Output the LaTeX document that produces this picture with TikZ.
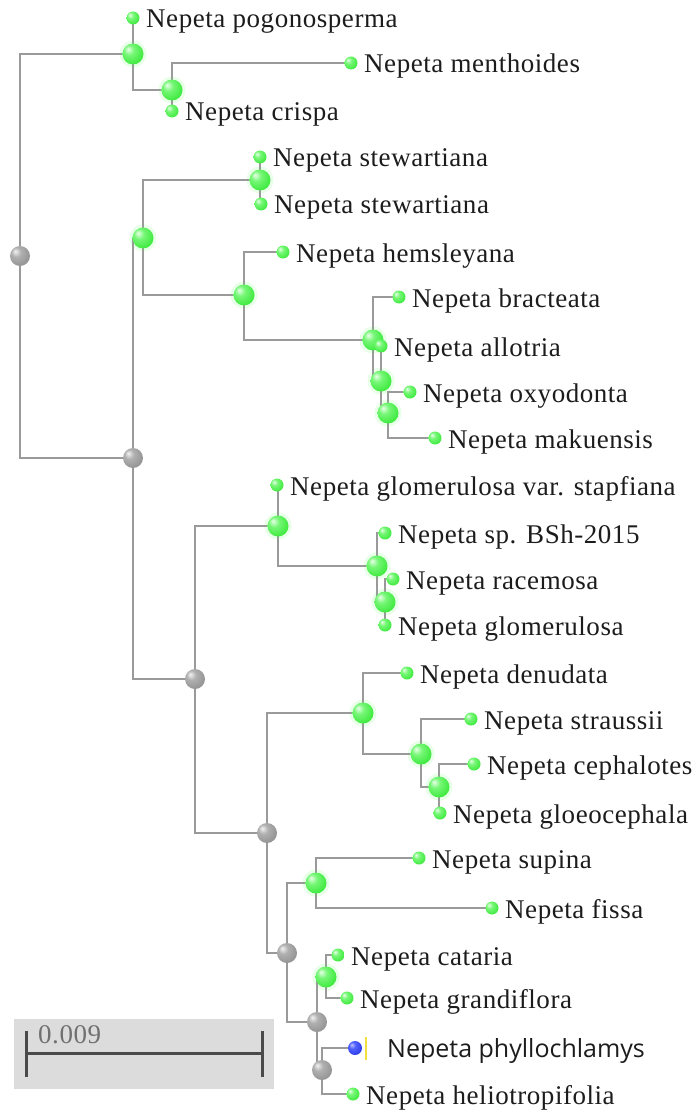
\documentclass[tikz,border=0pt]{standalone}
\usepackage{fontspec}
\setmainfont{Liberation Serif}[LetterSpace=2.0]
\newfontfamily\phyfont{Open Sans}
\definecolor{branch}{HTML}{9A9A9A}
\definecolor{barbox}{HTML}{DCDCDC}
\definecolor{bardark}{HTML}{4A4A4A}
\definecolor{scaletxt}{HTML}{707070}
\definecolor{labtxt}{HTML}{1C1C1C}
\definecolor{halo}{HTML}{D8FFD8}
\definecolor{gA}{HTML}{E8FFE8}\definecolor{gB}{HTML}{77F777}\definecolor{gC}{HTML}{2BE52B}\definecolor{gD}{HTML}{14A814}
\definecolor{kA}{HTML}{F2F2F2}\definecolor{kB}{HTML}{B0B0B0}\definecolor{kC}{HTML}{8A8A8A}\definecolor{kD}{HTML}{555555}
\definecolor{bA}{HTML}{C0C4FF}\definecolor{bB}{HTML}{5060FF}\definecolor{bC}{HTML}{2233DD}\definecolor{bD}{HTML}{101080}
\definecolor{yelmark}{HTML}{F0E040}
\pgfdeclareradialshading{gball}{\pgfpoint{-12bp}{12bp}}{color(0bp)=(gA); color(12bp)=(gB); color(38bp)=(gC); color(62bp)=(gD)}
\pgfdeclareradialshading{kball}{\pgfpoint{-12bp}{12bp}}{color(0bp)=(kA); color(12bp)=(kB); color(38bp)=(kC); color(62bp)=(kD)}
\pgfdeclareradialshading{bball}{\pgfpoint{-12bp}{12bp}}{color(0bp)=(bA); color(12bp)=(bB); color(38bp)=(bC); color(62bp)=(bD)}
\tikzset{
  br/.style={draw=branch, line width=2pt},
  leafg/.style={circle, inner sep=0pt, minimum size=13pt, shading=gball},
  nodeg/.style={circle, inner sep=0pt, minimum size=21pt, shading=gball},
  nodek/.style={circle, inner sep=0pt, minimum size=20pt, shading=kball},
  leafb/.style={circle, inner sep=0pt, minimum size=14pt, shading=bball},
  glow/.style={circle, inner sep=0pt, fill=halo, opacity=0.6},
  lab/.style={anchor=base west, inner sep=0pt, font=\fontsize{27}{31}\selectfont, text=labtxt},
}
\begin{document}
\begin{tikzpicture}[x=1pt,y=-1pt]
\useasboundingbox (0,0) rectangle (699,1115);
% ---- positions
\coordinate (R0) at (20,256);
\coordinate (A) at (133,54);   \coordinate (A2) at (172,90);
\coordinate (G0) at (133,458); \coordinate (B) at (143,238);
\coordinate (St) at (260,180); \coordinate (C) at (244,295);
\coordinate (D) at (373,340);  \coordinate (E) at (381,381); \coordinate (F) at (388,413);
\coordinate (J) at (195,679);  \coordinate (G) at (278,526);
\coordinate (H) at (377,566);  \coordinate (I) at (385,602);
\coordinate (N) at (267,833);  \coordinate (K) at (363,713);
\coordinate (L) at (421,754);  \coordinate (M) at (439,787);
\coordinate (P) at (287,953);  \coordinate (O) at (316,883);
\coordinate (Q) at (317,1022); \coordinate (S) at (326,977);
\coordinate (Rr) at (322,1070);
\coordinate (pogo) at (133,18);  \coordinate (menth) at (351,63); \coordinate (crispa) at (172,111);
\coordinate (stewa) at (260,157); \coordinate (stewb) at (261,204); \coordinate (hems) at (283,252);
\coordinate (brac) at (399,297); \coordinate (allo) at (381,346); \coordinate (oxy) at (410,392);
\coordinate (mak) at (435,438);  \coordinate (staph) at (277,485); \coordinate (spb) at (385,533);
\coordinate (race) at (393,579); \coordinate (glom) at (385,625); \coordinate (den) at (407,673);
\coordinate (stra) at (471,719); \coordinate (ceph) at (474,764); \coordinate (gloe) at (440,813);
\coordinate (sup) at (419,858);  \coordinate (fis) at (492,908);  \coordinate (cat) at (338,955);
\coordinate (gra) at (347,998);  \coordinate (phy) at (355,1048); \coordinate (hel) at (353,1094);
% ---- soft glow behind green spheres
\foreach \n in {A,A2,B,St,C,D,E,F,G,H,I,K,L,M,O,S} \node[glow, minimum size=27pt] (h\n) at (\n) {};
% ---- branches
\draw[br] (R0) |- (A);  \draw[br] (R0) |- (G0);
\draw[br] (A) |- (pogo); \draw[br] (A) |- (A2);
\draw[br] (A2) |- (menth); \draw[br] (A2) |- (crispa);
\draw[br] (G0) |- (B); \draw[br] (G0) |- (J);
\draw[br] (B) |- (St); \draw[br] (B) |- (C);
\draw[br] (St) |- (stewa); \draw[br] (St) |- (stewb);
\draw[br] (C) |- (hems); \draw[br] (C) |- (D);
\draw[br] (D) |- (brac); \draw[br] (D) |- (E);
\draw[br] (E) |- (allo); \draw[br] (E) |- (F);
\draw[br] (F) |- (oxy); \draw[br] (F) |- (mak);
\draw[br] (J) |- (G); \draw[br] (J) |- (N);
\draw[br] (G) |- (staph); \draw[br] (G) |- (H);
\draw[br] (H) |- (spb); \draw[br] (H) |- (I);
\draw[br] (I) |- (race); \draw[br] (I) |- (glom);
\draw[br] (N) |- (K); \draw[br] (N) |- (P);
\draw[br] (K) |- (den); \draw[br] (K) |- (L);
\draw[br] (L) |- (stra); \draw[br] (L) |- (M);
\draw[br] (M) |- (ceph); \draw[br] (M) |- (gloe);
\draw[br] (P) |- (O); \draw[br] (P) |- (Q);
\draw[br] (O) |- (sup); \draw[br] (O) |- (fis);
\draw[br] (Q) |- (S); \draw[br] (Q) |- (Rr);
\draw[br] (S) |- (cat); \draw[br] (S) |- (gra);
\draw[br] (Rr) |- (phy); \draw[br] (Rr) |- (hel);
% ---- internal spheres
\foreach \n in {R0,G0,J,N,P,Q,Rr} \node[nodek] (s\n) at (\n) {};
\foreach \n in {A,A2,B,St,C,D,E,F,G,H,I,K,L,M,O,S} \node[nodeg] (s\n) at (\n) {};
% ---- leaves
\foreach \n/\t in {pogo/pogonosperma, menth/menthoides, crispa/crispa, stewa/stewartiana, stewb/stewartiana,
  hems/hemsleyana, brac/bracteata, allo/allotria, oxy/oxyodonta, mak/makuensis,
  staph/glomerulosa var. stapfiana, spb/sp. BSh-2015, race/racemosa, glom/glomerulosa,
  den/denudata, stra/straussii, ceph/cephalotes, gloe/gloeocephala, sup/supina, fis/fissa,
  cat/cataria, gra/grandiflora, hel/heliotropifolia}
{
  \node[leafg] (s\n) at (\n) {};
  \node[lab] (t\n) at ([shift={(13,10)}]\n) {Nepeta \t};
}
\node[leafb] (sphy) at (phy) {};
\coordinate (mk1) at (366,1037); \coordinate (mk2) at (366,1060);
\draw[yelmark, line width=1.5pt] (mk1) -- (mk2);
\node[anchor=base west, inner sep=0pt, font=\phyfont\fontsize{25}{30}\selectfont, text=labtxt] (tphy) at (387,1057) {Nepeta phyllochlamys};
% ---- scale bar
\node[fill=barbox, inner sep=0pt, minimum width=260pt, minimum height=70pt, anchor=north west] (box) at (14,1019) {};
\coordinate (b1) at (26,1053); \coordinate (b2) at (262,1053);
\draw[bardark, line width=3pt] (b1) -- (b2);
\draw[bardark, line width=3pt] ([yshift=22pt]b1) -- ([yshift=-24pt]b1);
\draw[bardark, line width=3pt] ([yshift=22pt]b2) -- ([yshift=-24pt]b2);
\node[lab, text=scaletxt] (tscale) at (38,1043) {0.009};
\end{tikzpicture}
\end{document}
